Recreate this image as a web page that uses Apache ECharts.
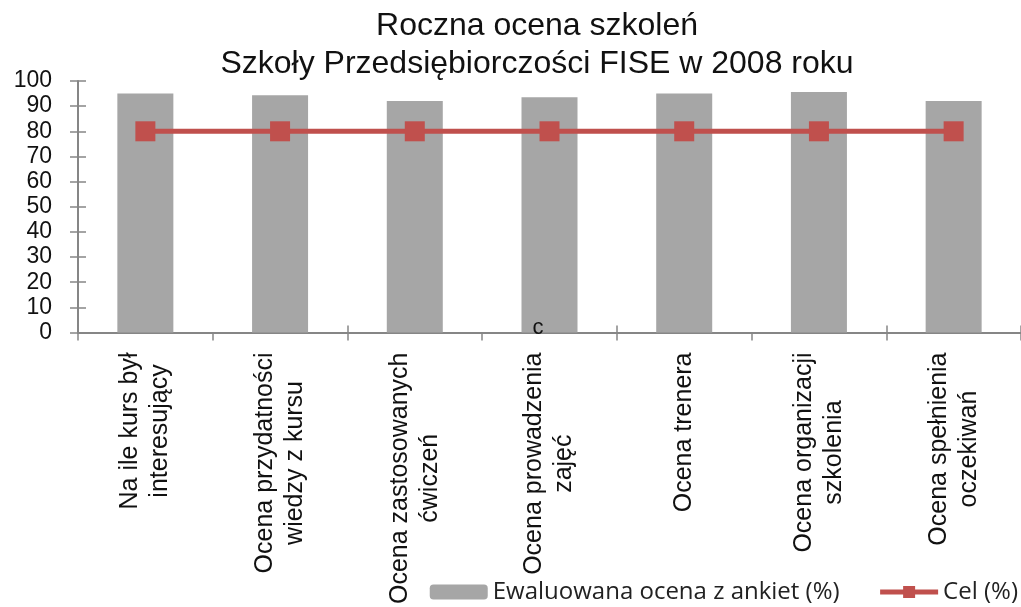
<!DOCTYPE html>
<html>
<head>
<meta charset="utf-8">
<script src="https://cdn.jsdelivr.net/npm/echarts@6/dist/echarts.min.js"></script>
<style>
  html, body { margin: 0; padding: 0; background: #fff; }
  #c1 { width: 1021px; height: 607px; }
</style>
</head>
<body>
<div id="c1"></div>
<script>
var categories = [
  'Na ile kurs był\ninteresujący',
  'Ocena przydatności\nwiedzy z kursu',
  'Ocena zastosowanych\nćwiczeń',
  'Ocena prowadzenia\nzajęć',
  'Ocena trenera',
  'Ocena organizacji\nszkolenia',
  'Ocena spełnienia\noczekiwań'
];
var ocena = [95, 94.3, 92, 93.5, 95, 95.6, 92];
var cel = [80, 80, 80, 80, 80, 80, 80];
var seriesNames = ['Ewaluowana ocena z ankiet (%)', 'Cel (%)'];

var axisGray = '#868686';
var font = 'Liberation Sans, Arial, sans-serif';

function makeChart(id, option){
  var myChart = echarts.init(document.getElementById(id), null, {renderer: 'canvas'});
  myChart.setOption(option);
  window.onresize = myChart.resize;
}

var option = {
  animation: false,
  title: {
    text: 'Roczna ocena szkoleń\nSzkoły Przedsiębiorczości FISE w 2008 roku',
    left: 532,
    textAlign: 'center',
    top: 2,
    textStyle: {
      fontFamily: font,
      fontSize: 32,
      fontWeight: 'normal',
      color: '#111',
      lineHeight: 38
    }
  },
  legend: {
    right: -2,
    bottom: -2,
    itemWidth: 58,
    itemHeight: 15,
    itemGap: 38,
    lineStyle: {width: 5},
    textStyle: {fontFamily: 'Open Sans', fontSize: 24, color: '#222'},
    data: seriesNames
  },
  grid: {left: 78, right: 0, top: 81, bottom: 272},
  xAxis: [
    {
      type: 'category',
      position: 'bottom',
      data: categories,
      axisLine: {lineStyle: {color: axisGray, width: 2}},
      axisTick: {show: true, length: 8, lineStyle: {color: axisGray, width: 1.5}},
      axisLabel: {
        interval: 0,
        rotate: 90,
        margin: 20,
        formatter: function(v){
          return v.split('\n').map(function(s){ return '{c|' + s + '}'; }).join('\n');
        },
        rich: {
          c: {align: 'center', fontFamily: font, fontSize: 25, lineHeight: 30, color: '#111'}
        }
      }
    },
    {
      type: 'category',
      position: 'bottom',
      data: categories,
      axisLine: {show: false},
      axisTick: {show: true, inside: true, length: 7, lineStyle: {color: axisGray, width: 1.5}},
      axisLabel: {show: false}
    }
  ],
  yAxis: [
    {
      type: 'value',
      position: 'left',
      min: 0,
      max: 100,
      interval: 10,
      splitLine: {show: false},
      axisLine: {show: true, lineStyle: {color: axisGray, width: 2}},
      axisTick: {show: true, length: 8, lineStyle: {color: axisGray, width: 1.5}},
      axisLabel: {margin: 26, fontFamily: font, fontSize: 23, color: '#111'}
    },
    {
      type: 'value',
      position: 'left',
      min: 0,
      max: 100,
      interval: 10,
      splitLine: {show: false},
      axisLine: {show: false},
      axisTick: {show: true, inside: true, length: 8, lineStyle: {color: axisGray, width: 1.5}},
      axisLabel: {show: false}
    }
  ],
  series: [
    {
      name: seriesNames[0],
      type: 'bar',
      barWidth: 56,
      itemStyle: {color: '#a6a6a6'},
      data: ocena
    },
    {
      name: seriesNames[1],
      type: 'line',
      symbol: 'rect',
      symbolSize: 20,
      lineStyle: {color: '#c0504d', width: 5},
      itemStyle: {color: '#c0504d'},
      data: cel
    }
  ],
  graphic: [
    {
      type: 'text',
      z: 100,
      style: {
        x: 538,
        y: 339,
        text: 'c',
        textAlign: 'center',
        textVerticalAlign: 'bottom',
        fontFamily: font,
        fontSize: 22,
        fill: '#111'
      }
    }
  ]
};

makeChart('c1', option);
</script>
</body>
</html>
